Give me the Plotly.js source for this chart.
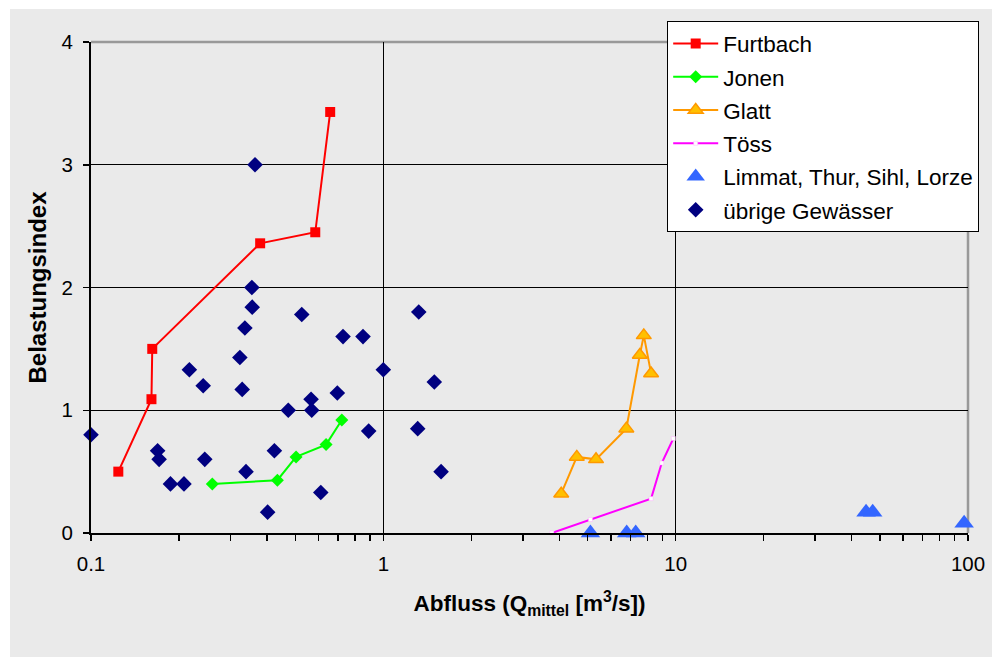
<!DOCTYPE html>
<html>
<head>
<meta charset="utf-8">
<script src="https://cdn.plot.ly/plotly-3.0.1.min.js"></script>
<style>
  html, body { margin: 0; padding: 0; background: #ffffff; }
  #chart { width: 994px; height: 657px; }
</style>
</head>
<body>
<div id="chart"></div>
<script>
// Abfluss (mean discharge, m3/s) and Belastungsindex per river
const furtbachQ   = [0.124, 0.161, 0.162, 0.379, 0.585, 0.658];
const furtbachIdx = [0.50, 1.09, 1.50, 2.36, 2.45, 3.43];

const jonenQ   = [0.260, 0.434, 0.503, 0.637, 0.721];
const jonenIdx = [0.40, 0.43, 0.62, 0.72, 0.92];

const glattQ   = [4.06, 4.59, 5.34, 6.78, 7.54, 7.78, 8.24];
const glattIdx = [0.32, 0.62, 0.60, 0.85, 1.45, 1.61, 1.30];

const toessQ   = [3.77, 5.11, 8.24, 8.96, 9.82];
const toessIdx = [0.00, 0.11, 0.28, 0.57, 0.77];

const grossQ   = [5.11, 6.80, 7.30, 44.8, 47.2, 97.0];
const grossIdx = [0.00, 0.00, 0.00, 0.17, 0.17, 0.08];

const uebrigeQ = [0.100, 0.364, 0.355, 0.356, 0.336, 0.526, 0.323, 0.217, 0.242, 0.329,
                  0.728, 0.852, 1.000, 0.696, 0.566, 0.569, 0.473, 0.891, 0.169, 0.171,
                  0.245, 0.424, 0.339, 0.187, 0.208, 0.611, 0.402, 1.322, 1.494, 1.311, 1.576];
const uebrigeIdx = [0.80, 3.00, 2.00, 1.84, 1.67, 1.78, 1.43, 1.33, 1.20, 1.17,
                    1.60, 1.60, 1.33, 1.14, 1.09, 1.00, 1.00, 0.83, 0.67, 0.60,
                    0.60, 0.67, 0.50, 0.40, 0.40, 0.33, 0.17, 1.80, 1.23, 0.85, 0.50];

const seriesNames = ['Furtbach', 'Jonen', 'Glatt', 'Töss', 'Limmat, Thur, Sihl, Lorze', 'übrige Gewässer'];
const xTickVals = [0.1, 1, 10, 100];
const xTickText = ['0.1', '1', '10', '100'];
const xMinorVals = [0.2, 0.3, 0.4, 0.5, 0.6, 0.7, 0.8, 0.9, 2, 3, 4, 5, 6, 7, 8, 9,
                    20, 30, 40, 50, 60, 70, 80, 90];
const yTickVals = [0, 1, 2, 3, 4];

const FONT = 'Arial, "Liberation Sans", sans-serif';
const GREY = '#eaeaea';

const traces = [
  {
    x: furtbachQ, y: furtbachIdx, name: seriesNames[0], legendgroup: 'a',
    mode: 'lines+markers', type: 'scatter', cliponaxis: false,
    line: { color: '#ff0000', width: 2 },
    marker: { symbol: 'square', size: 10, color: '#ff0000' }
  },
  {
    x: jonenQ, y: jonenIdx, name: seriesNames[1], legendgroup: 'b',
    mode: 'lines+markers', type: 'scatter', cliponaxis: false,
    line: { color: '#00ff00', width: 2 },
    marker: { symbol: 'diamond', size: 10, color: '#00ff00' }
  },
  {
    x: glattQ, y: glattIdx, name: seriesNames[2], legendgroup: 'c',
    mode: 'lines+markers', type: 'scatter', cliponaxis: false,
    line: { color: '#ff9900', width: 2 },
    marker: { symbol: 'triangle-up', size: 13, color: '#ffc000', line: { color: '#ff9900', width: 1.5 } }
  },
  {
    x: toessQ, y: toessIdx, name: seriesNames[3], legendgroup: 'd',
    mode: 'lines+markers', type: 'scatter', cliponaxis: false,
    line: { color: '#ff00ff', width: 2 },
    marker: { symbol: 'square', size: 4, color: '#ffffff', line: { color: '#ffb0ff', width: 0.5 } }
  },
  {
    x: grossQ, y: grossIdx, name: seriesNames[4], legendgroup: 'e',
    mode: 'markers', type: 'scatter', cliponaxis: false,
    marker: { symbol: 'triangle-up', size: 17, color: '#3366ff' }
  },
  {
    x: uebrigeQ, y: uebrigeIdx, name: seriesNames[5], legendgroup: 'f',
    mode: 'markers', type: 'scatter', cliponaxis: false,
    marker: { symbol: 'diamond', size: 12, color: '#000080' }
  }
];

// plot area: 877 x 491 px inside the 994 x 657 page
const PW = 877, PH = 491;

const layout = {
  width: 994, height: 657,
  paper_bgcolor: GREY,
  plot_bgcolor: GREY,
  font: { family: FONT, color: '#000000', size: 20 },
  margin: { l: 91, r: 26, t: 42, b: 124 },
  showlegend: true,
  legend: {
    x: 0.657, y: 1.042, xanchor: 'left', yanchor: 'top',
    bgcolor: '#ffffff', bordercolor: '#000000', borderwidth: 1,
    font: { family: FONT, size: 22.5, color: '#000000' },
    itemwidth: 45,
    traceorder: 'grouped', tracegroupgap: 1
  },
  xaxis: {
    type: 'log', range: [-1, 2],
    tickvals: xTickVals, ticktext: xTickText,
    ticks: 'outside', ticklen: 6, tickwidth: 1.5, tickcolor: '#000000',
    showline: true, linecolor: '#000000', linewidth: 2,
    showgrid: true, gridcolor: '#000000', gridwidth: 1,
    zeroline: false,
    tickfont: { family: FONT, size: 20.5 },
    ticklabelstandoff: 5,
    minor: { ticks: 'outside', ticklen: 6, tickwidth: 1.5, tickcolor: '#000000', showgrid: false,
             tickvals: xMinorVals },
    title: { text: '<b>Abfluss (Q<sub>mittel</sub> [m<sup>3</sup>/s])</b>', font: { family: FONT, size: 22.5 }, standoff: 22 },
    automargin: false
  },
  yaxis: {
    range: [0, 4], tickvals: yTickVals,
    ticks: 'outside', ticklen: 6, tickwidth: 1.5, tickcolor: '#000000',
    showline: true, linecolor: '#000000', linewidth: 2,
    showgrid: true, gridcolor: '#000000', gridwidth: 1,
    zeroline: false,
    tickfont: { family: FONT, size: 20.5 },
    ticklabelstandoff: 6,
    title: { text: '<b>Belastungsindex</b>', font: { family: FONT, size: 24 }, standoff: 8 },
    automargin: false
  },
  shapes: [
    // thin white margin on the left, top and right of the grey chart area
    { type: 'rect', xref: 'paper', yref: 'paper', layer: 'below',
      x0: -91 / PW, x1: -81 / PW, y0: -124 / PH, y1: 1 + 42 / PH,
      fillcolor: '#ffffff', line: { width: 0 } },
    { type: 'rect', xref: 'paper', yref: 'paper', layer: 'below',
      x0: -91 / PW, x1: 1 + 26 / PW, y0: 1 + 33 / PH, y1: 1 + 42 / PH,
      fillcolor: '#ffffff', line: { width: 0 } },
    { type: 'rect', xref: 'paper', yref: 'paper', layer: 'below',
      x0: 1 + 24 / PW, x1: 1 + 26 / PW, y0: -124 / PH, y1: 1 + 42 / PH,
      fillcolor: '#ffffff', line: { width: 0 } },
    // grey frame on the top and right edge of the plot area
    { type: 'line', xref: 'paper', yref: 'paper', layer: 'between',
      x0: 0, x1: 1, y0: 1, y1: 1, line: { color: '#999999', width: 2.5 } },
    { type: 'line', xref: 'paper', yref: 'paper', layer: 'between',
      x0: 1, x1: 1, y0: 0, y1: 1, line: { color: '#999999', width: 2.5 } }
  ]
};

Plotly.newPlot('chart', traces, layout, { displayModeBar: false, staticPlot: true });
</script>
</body>
</html>
